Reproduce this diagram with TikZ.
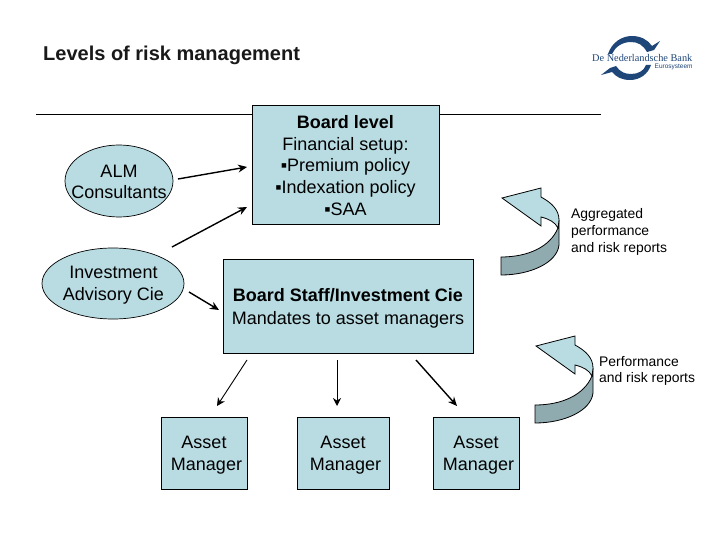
\documentclass[tikz,border=0pt]{standalone}
\usepackage{fontspec}
\setmainfont{Liberation Sans}
\newfontfamily\logofont{Liberation Serif}
\usetikzlibrary{arrows.meta,shapes.geometric}
\definecolor{boxblue}{HTML}{B8DCE2}
\definecolor{shadeblue}{HTML}{8FABB0}
\definecolor{logoblue}{HTML}{1F4678}
\newcommand{\dnstrut}[1]{\rule{0pt}{#1}}
\tikzset{
  x=1pt,y=-1pt,
  txt/.style={font=\fontsize{18}{21.7}\selectfont,align=center,text=black,inner sep=0pt},
  small/.style={font=\fontsize{13.9}{17}\selectfont,align=left,anchor=west,inner sep=0pt},
  boxnode/.style={draw=black,line width=0.8pt,fill=boxblue,inner sep=0pt,align=center,
     font=\fontsize{18}{21.7}\selectfont},
  ell/.style={draw=black,line width=0.7pt,fill=boxblue,ellipse,inner sep=0pt},
  conn/.style={draw=black,line width=1.4pt,-{Stealth[length=9pt,width=8pt]}},
  connthin/.style={draw=black,line width=0.9pt,-{Stealth[length=8pt,width=8pt]}},
  bandfront/.style={draw=black,line width=0.8pt,fill=boxblue},
  bandback/.style={draw=black,line width=0.8pt,fill=shadeblue},
  logoshape/.style={fill=logoblue,draw=none}
}
\newcommand{\reportarrow}[2]{%
  \begin{scope}[shift={(#1,#2)}]
    \path[bandback] (501,257) .. controls (528,257) and (550,247) .. (558,228)
       -- (559,220) -- (559,245) .. controls (557,263) and (530,275) .. (501,275) -- cycle;
    \path[bandfront] (502,198) -- (541,188) -- (541,197)
       .. controls (552,203) and (559,210) .. (559,220)
       .. controls (559,223) and (558,226) .. (558,228)
       .. controls (555,222) and (549,219) .. (541,217)
       -- (541,226) -- cycle;
  \end{scope}}
\begin{document}
\begin{tikzpicture}
\useasboundingbox (0,0) rectangle (720,540);
\fill[white] (0,0) rectangle (720,540);
% title
\node[anchor=west,inner sep=0pt,font=\fontsize{20}{22}\selectfont\bfseries,text=black!90] (title) at (43,55) {Levels of risk management};
% rule
\coordinate (ruleL) at (36,114);
\coordinate (ruleR) at (601,114);
\draw[line width=0.8pt] (ruleL) -- (ruleR);
% logo
\path[logoshape] (608,54) .. controls (612,42) and (622,36) .. (632,36)
   .. controls (641,36) and (648,40) .. (652,46) -- (660,41) -- (654,50) -- (647,52)
   .. controls (643,45) and (638,42) .. (631,42)
   .. controls (622,42) and (615,47) .. (612,54) -- cycle;
\path[logoshape] (601,75) -- (610,68) -- (616,66)
   .. controls (620,72) and (625,74) .. (631,74)
   .. controls (638,74) and (644,71) .. (646,65) -- (651,65)
   .. controls (648,74) and (640,80) .. (630,80)
   .. controls (622,80) and (616,77) .. (612,72) -- cycle;
\node[anchor=west,inner sep=0pt,text=logoblue,font=\logofont\fontsize{10.3}{12}\selectfont] (logotext) at (592,58) {De Nederlandsche Bank};
\node[anchor=west,inner sep=0pt,text=logoblue,font=\fontsize{6.5}{7}\selectfont] (logosub) at (654.5,67) {Eurosysteem};
% boxes
\node[boxnode,minimum width=187pt,minimum height=119pt] (board) at (345.5,164.5)
  {\dnstrut{15pt}\textbf{Board level}\\Financial setup:\\▪Premium policy\\▪Indexation policy\\▪SAA};
\node[boxnode,minimum width=250pt,minimum height=94pt,font=\fontsize{18}{22.8}\selectfont] (staff) at (348,306)
  {\dnstrut{17pt}\textbf{Board Staff/Investment Cie}\\Mandates to asset managers};
\node[ell,minimum width=108pt,minimum height=72pt] (alm) at (119,181) {};
\node[txt,font=\fontsize{18}{21}\selectfont] (almtext) at (119,181.5) {ALM\\Consultants};
\node[ell,minimum width=142pt,minimum height=71pt] (inv) at (113,283.5) {};
\node[txt] (invtext) at (113.5,285.5) {Investment\\Advisory Cie};
\node[boxnode,minimum width=86pt,minimum height=72pt] (am1) at (204,453) {\dnstrut{17pt}Asset\\\hspace*{5pt}Manager};
\node[boxnode,minimum width=92pt,minimum height=72pt] (am2) at (343,453) {\dnstrut{17pt}Asset\\\hspace*{5pt}Manager};
\node[boxnode,minimum width=86pt,minimum height=72pt] (am3) at (476,453) {\dnstrut{17pt}Asset\\\hspace*{5pt}Manager};
% connector ends
\coordinate (a1s) at (178,179);  \coordinate (a1e) at (247,167);
\coordinate (a2s) at (172,247);  \coordinate (a2e) at (247,207);
\coordinate (a3s) at (189,292);  \coordinate (a3e) at (219,310);
\coordinate (d1s) at (247,360);  \coordinate (d1e) at (217,406);
\coordinate (d2s) at (337,360);  \coordinate (d2e) at (337,406);
\coordinate (d3s) at (416,360);  \coordinate (d3e) at (457,406);
\draw[conn] (a1s) -- (a1e);
\draw[conn] (a2s) -- (a2e);
\draw[conn] (a3s) -- (a3e);
\draw[connthin] (d1s) -- (d1e);
\draw[connthin] (d2s) -- (d2e);
\draw[conn] (d3s) -- (d3e);
% curved arrows
\reportarrow{0}{0}
\reportarrow{34}{148}
% labels
\node[small] (rep1) at (571,232) {Aggregated\\performance\\and risk reports};
\node[small,font=\fontsize{13.9}{16}\selectfont] (rep2) at (599,371) {Performance\\and risk reports};
\end{tikzpicture}
\end{document}
